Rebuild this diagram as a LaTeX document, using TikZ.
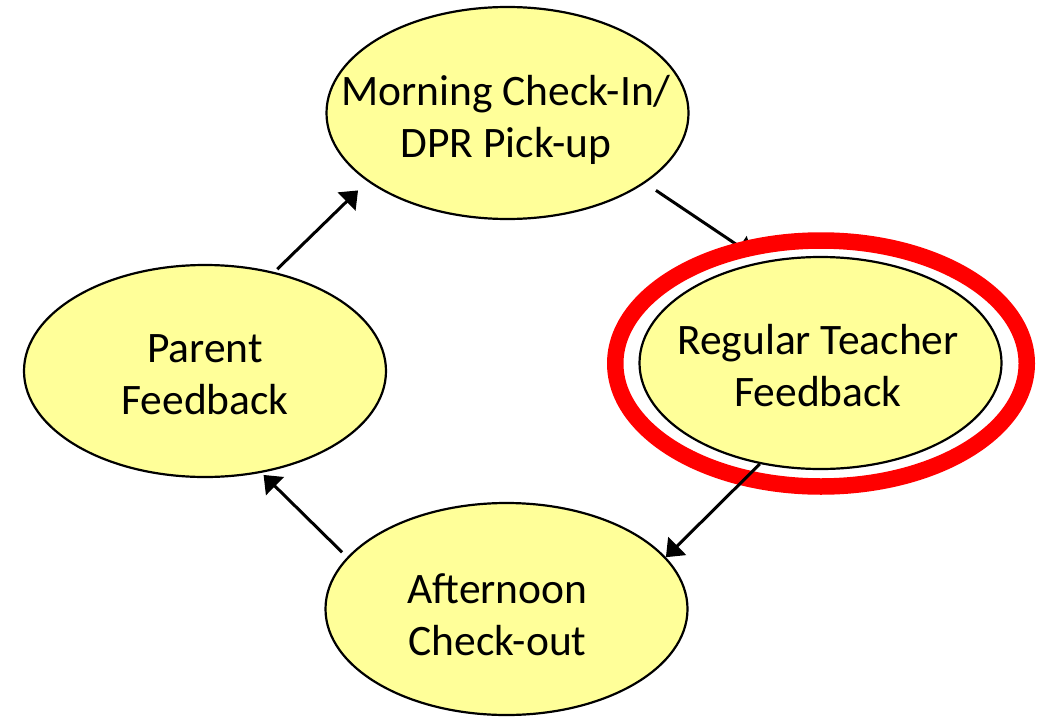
\documentclass[tikz,border=0pt]{standalone}
\usepackage{fontspec}
\setmainfont{Carlito}
\usetikzlibrary{arrows.meta,shapes.geometric}
\definecolor{pale}{HTML}{FFFF99}
\begin{document}
\begin{tikzpicture}[x=1pt,y=-1pt,
  stage/.style={ellipse, draw=black, line width=2.2pt, fill=pale, minimum width=362pt, minimum height=212pt, inner sep=0pt},
  lbl/.style={align=center, font=\fontsize{43.5}{52}\selectfont, inner sep=0pt},
  flow/.style={line width=3pt, -{Triangle[length=16pt,width=25pt]}},
  ring/.style={ellipse, draw=red, line width=16.5pt, minimum width=411.5pt, minimum height=246pt, inner sep=0pt}]
\useasboundingbox (0,0) rectangle (1043,717);
\node[stage] (T) at (507.5,113) {};
\node[stage] (R) at (820.5,363) {};
\node[stage] (L) at (205,371) {};
\node[stage] (B) at (506.5,609) {};
\node[lbl] (Tt) at (506,120) {Morning Check-In/\\DPR Pick-up};
\node[lbl] (Rt) at (818,366) {Regular Teacher\\Feedback};
\node[lbl] (Lt) at (205,375) {Parent\\Feedback};
\node[lbl] (Bt) at (497.5,615) {Afternoon\\Check-out};
\draw[flow, shorten <=13pt, shorten >=11pt] (T.-27.4) -- (R.120);
\node[ring] (ring) at (821,363.5) {};
\draw[flow] (R.239.4) -- (B.18.4);
\draw[flow, shorten <=7pt, shorten >=3pt] (B.162.2) -- (L.-61.4);
\draw[flow, shorten <=4pt, shorten >=13pt] (L.55.2) -- (T.206.15);
\end{tikzpicture}
\end{document}
